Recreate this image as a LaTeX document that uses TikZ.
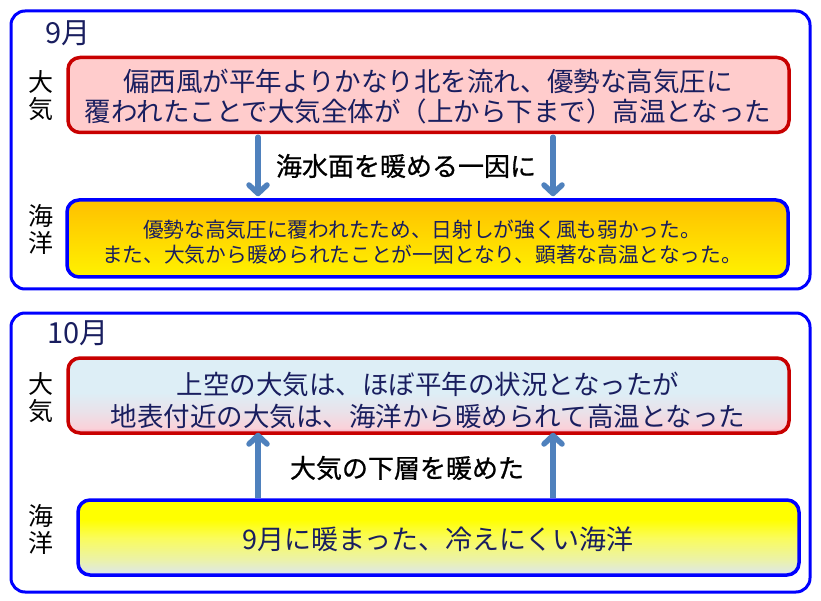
\documentclass[tikz,border=0pt]{standalone}
\usepackage{fontspec}
\setmainfont{Noto Sans CJK JP}
\newfontfamily\lblfont[FakeBold=0.8]{Noto Sans CJK JP}
\usetikzlibrary{arrows.meta}
\definecolor{frameblue}{RGB}{0,0,255}
\definecolor{boxred}{RGB}{200,0,0}
\definecolor{navy}{RGB}{25,30,95}
\definecolor{arrowblue}{RGB}{79,129,189}
\definecolor{pinkfill}{RGB}{255,204,204}
\definecolor{oyA}{RGB}{255,242,0}
\definecolor{oyB}{RGB}{255,192,0}
\definecolor{bpA}{RGB}{245,150,180}
\definecolor{bpB}{RGB}{250,208,216}
\definecolor{bpC}{RGB}{233,226,234}
\definecolor{bpD}{RGB}{221,238,246}
\definecolor{ygA}{RGB}{220,230,240}
\definecolor{ygB}{RGB}{235,242,170}
\definecolor{ygC}{RGB}{250,252,90}
\definecolor{ygD}{RGB}{255,255,0}
\pgfdeclareverticalshading{orangeyellow}{100bp}{color(0bp)=(oyA); color(25bp)=(oyA); color(75bp)=(oyB); color(100bp)=(oyB)}
\pgfdeclareverticalshading{bluepink}{100bp}{color(0bp)=(bpA); color(25bp)=(bpA); color(28bp)=(bpB); color(40bp)=(bpC); color(52bp)=(bpD); color(75bp)=(bpD); color(100bp)=(bpD)}
\pgfdeclareverticalshading{yellowgrey}{100bp}{color(0bp)=(ygA); color(25bp)=(ygA); color(35bp)=(ygB); color(50bp)=(ygC); color(62bp)=(ygD); color(75bp)=(ygD); color(100bp)=(ygD)}
\begin{document}
\begin{tikzpicture}[x=1pt,y=-1pt,
  frame/.style={draw=frameblue,line width=3pt,rounded corners=14pt,minimum width=799pt,minimum height=278pt,inner sep=0pt},
  redbox/.style={draw=boxred,line width=3.5pt,rounded corners=12pt,minimum width=721pt,minimum height=74pt,inner sep=0pt},
  bluebox/.style={draw=frameblue,line width=3.5pt,rounded corners=12pt,minimum width=721pt,minimum height=75pt,inner sep=0pt},
  boxtext/.style={text=navy,align=center,inner sep=0pt},
  sidelabel/.style={align=center,inner sep=0pt,font=\fontsize{25pt}{27pt}\selectfont},
  title/.style={inner sep=0pt,text=navy,font=\fontsize{29pt}{30pt}\selectfont},
  arrlabel/.style={inner sep=0pt,font=\lblfont\fontsize{26pt}{28pt}\selectfont},
  arr/.style={draw=arrowblue,line width=5.5pt,-{Straight Barb[round,length=8.5pt,width=18pt]}}
]
\useasboundingbox (0,0) rectangle (821,601);
% ---------- September ----------
\node[frame] (f1) at (410.5,150) {};
\node[title] (t1) at (68,33) {9月};
\node[sidelabel] (s1a) at (41,96) {大\\気};
\node[sidelabel] (s1o) at (41,229) {海\\洋};
\node[redbox,fill=pinkfill,minimum height=75pt] (u1) at (428.5,95) {};
\node[boxtext,font=\fontsize{26.5pt}{30pt}\selectfont] (u1t) at (428,97) {偏西風が平年よりかなり北を流れ、優勢な高気圧に\\覆われたことで大気全体が（上から下まで）高温となった};
\node[bluebox,shading=orangeyellow,minimum height=77pt] (l1) at (427.5,238.5) {};
\node[boxtext,font=\fontsize{20.7pt}{25pt}\selectfont] (l1t) at (422,242) {優勢な高気圧に覆われたため、日射しが強く風も弱かった。\\また、大気から暖められたことが一因となり、顕著な高温となった。};
\coordinate (xa) at (258,0);
\coordinate (xb) at (553,0);
\draw[arr,line cap=round] ([yshift=-3pt]u1.south -| xa) -- ([yshift=2pt]l1.north -| xa);
\draw[arr,line cap=round] ([yshift=-3pt]u1.south -| xb) -- ([yshift=2pt]l1.north -| xb);
\node[arrlabel] (m1) at (406,166) {海水面を暖める一因に};
% ---------- October ----------
\node[frame,minimum height=279pt] (f2) at (410.5,452.5) {};
\node[title] (t2) at (78,333) {10月};
\node[sidelabel] (s2a) at (41,398) {大\\気};
\node[sidelabel] (s2o) at (41,529) {海\\洋};
\node[redbox,shading=bluepink,minimum height=75pt] (u2) at (428.5,395.5) {};
\node[boxtext,font=\fontsize{26.5pt}{32pt}\selectfont] (u2t) at (428,400) {上空の大気は、ほぼ平年の状況となったが\\地表付近の大気は、海洋から暖められて高温となった};
\node[bluebox,shading=yellowgrey] (l2) at (438.5,537.5) {};
\node[boxtext,font=\fontsize{27pt}{30pt}\selectfont] (l2t) at (438,539) {9月に暖まった、冷えにくい海洋};
\draw[arr] (l2.north -| xa) -- ([yshift=2pt]u2.south -| xa);
\draw[arr] (l2.north -| xb) -- ([yshift=2pt]u2.south -| xb);
\node[arrlabel] (m2) at (407,468) {大気の下層を暖めた};
\end{tikzpicture}
\end{document}
